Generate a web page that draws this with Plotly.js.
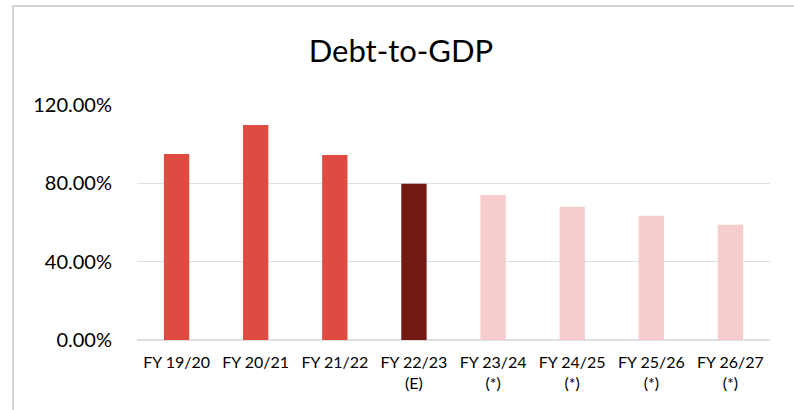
<!DOCTYPE html>
<html>
<head>
<meta charset="utf-8">
<script src="https://cdn.plot.ly/plotly-3.0.1.min.js"></script>
<style>
  html, body { margin: 0; padding: 0; background: #fff; }
  #wrap { position: relative; width: 794px; height: 410px; overflow: hidden; }
  #chart { position: absolute; left: 0; top: 0; width: 794px; height: 410px; }
  #frame { position: absolute; left: 12px; top: 5px; width: 800px; height: 420px;
           border-left: 2px solid #d4d4d4; border-top: 2px solid #d4d4d4; pointer-events: none; }
</style>
</head>
<body>
<div id="wrap">
  <div id="chart"></div>
  <div id="frame"></div>
</div>
<script>
const categories = ["FY 19/20", "FY 20/21", "FY 21/22", "FY 22/23<br>(E)", "FY 23/24<br>(*)", "FY 24/25<br>(*)", "FY 25/26<br>(*)", "FY 26/27<br>(*)"];
const debtToGdp = [95.0, 109.8, 94.5, 79.8, 74.0, 68.0, 63.4, 58.8];
const yTickValues = [0, 40, 80, 120];
const yTickLabels = ["0.00%", "40.00%", "80.00%", "120.00%"];
const barColors = ["#E04B41", "#E04B41", "#E04B41", "#731A15", "#F6CDCC", "#F6CDCC", "#F6CDCC", "#F6CDCC"];

const trace = {
  type: "bar",
  x: categories,
  y: debtToGdp,
  width: 0.32,
  marker: { color: barColors },
  hoverinfo: "skip"
};

const layout = {
  width: 794,
  height: 410,
  margin: { l: 137, r: 24, t: 105, b: 70, pad: 0 },
  paper_bgcolor: "rgba(0,0,0,0)",
  plot_bgcolor: "rgba(0,0,0,0)",
  showlegend: false,
  font: { family: "Lato, 'Open Sans', sans-serif", color: "#000" },
  title: {
    text: "Debt-to-GDP",
    font: { family: "Lato, 'Open Sans', sans-serif", size: 31, color: "#000" },
    x: 0.505, xanchor: "center",
    y: 0.876, yanchor: "middle"
  },
  xaxis: {
    type: "category",
    showgrid: false,
    showline: false,
    zeroline: false,
    ticks: "outside",
    ticklen: 8,
    tickcolor: "rgba(0,0,0,0)",
    tickfont: { size: 16, color: "#000" },
    fixedrange: true
  },
  yaxis: {
    range: [0, 120],
    tickvals: yTickValues,
    ticktext: yTickLabels,
    showgrid: true,
    gridcolor: "#DCDFE3",
    gridwidth: 1.5,
    zeroline: true,
    zerolinecolor: "#DCDFE3",
    zerolinewidth: 1.5,
    showline: false,
    ticks: "outside",
    ticklen: 20,
    tickcolor: "rgba(0,0,0,0)",
    tickfont: { size: 20, color: "#000" },
    fixedrange: true
  }
};

Plotly.newPlot("chart", [trace], layout, { displayModeBar: false, staticPlot: true });
</script>
</body>
</html>
